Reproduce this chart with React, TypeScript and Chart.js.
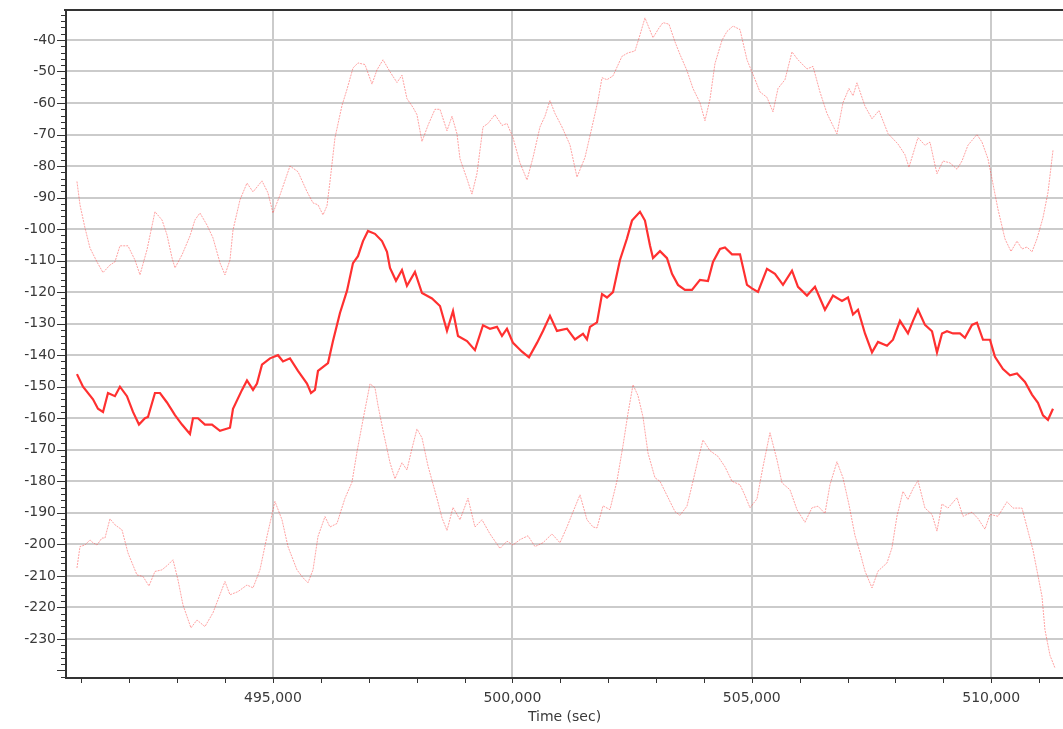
import React, { useEffect, useRef } from "react";
import { Chart, registerables } from "chart.js";

Chart.register(...registerables);

// ---- data (time in seconds, value) ----
const midTime = [490906,491032,491241,491345,491450,491554,491699,491804,491950,492076,492201,492326,492389,492535,492640,492786,492953,493099,493266,493329,493433,493579,493726,493893,494102,494165,494353,494457,494583,494666,494770,494937,495104,495209,495355,495522,495710,495794,495877,495940,496149,496253,496399,496545,496671,496775,496880,496984,497130,497277,497381,497444,497569,497694,497798,497965,498112,498321,498488,498634,498760,498864,499052,499218,499386,499532,499678,499783,499887,500013,500201,500347,500514,500639,500785,500931,501140,501307,501475,501558,501621,501767,501872,501976,502101,502247,502393,502498,502665,502769,502874,502937,503083,503229,503334,503459,503604,503751,503918,504085,504190,504336,504440,504587,504754,504900,505004,505129,505317,505484,505652,505840,505965,506153,506320,506528,506696,506884,507009,507114,507218,507364,507511,507636,507824,507949,508095,508262,508367,508471,508617,508764,508868,508973,509077,509203,509348,509452,509599,509703,509829,509975,510079,510247,510393,510539,510706,510852,510977,511082,511186,511291];
const midValue = [-146,-150,-154,-157,-158,-152,-153,-150,-153,-158,-162,-160,-159.6,-152,-152,-155,-159,-162,-165,-160,-160,-162,-162,-164,-163,-157,-151,-148,-151,-149,-143,-141,-140,-142,-141,-145,-149,-152,-151,-145,-142.5,-135.5,-126.6,-119.6,-110.8,-108.6,-103.8,-100.6,-101.5,-103.8,-107.2,-112.3,-116.4,-113,-118,-113.6,-120.3,-122,-124.4,-132.3,-126,-133.9,-135.5,-138.4,-130.5,-131.6,-131,-133.9,-131.6,-136.1,-138.9,-140.7,-136.1,-132.3,-127.5,-132.3,-131.6,-135,-133.2,-135,-131,-129.6,-120.6,-121.7,-120,-109.8,-103,-97.3,-94.5,-97.3,-105.2,-109.2,-107,-109.2,-114.2,-117.7,-119.3,-119.3,-116.1,-116.5,-110.4,-106.3,-105.8,-108,-108,-117.7,-118.8,-119.9,-112.6,-114.2,-117.7,-113.2,-118.3,-121.1,-118.3,-125.6,-121.1,-122.8,-121.7,-127.1,-125.6,-133.1,-139.1,-135.8,-137,-135.1,-129.1,-133.1,-129.1,-125.5,-130.4,-132.4,-139.1,-133.1,-132.4,-133.1,-133.1,-134.5,-130.4,-129.7,-135.1,-135.1,-140.5,-144.4,-146.4,-145.8,-148.5,-152.5,-155.1,-159.1,-160.5,-157];

const upperTime = [490906,490969,491073,491178,491324,491450,491595,491699,491804,491971,492117,492222,492368,492535,492682,492786,492891,492953,493099,493266,493370,493475,493621,493747,493893,493997,494102,494165,494311,494457,494583,494770,494895,495000,495146,495355,495522,495710,495836,495940,496045,496128,496190,496294,496441,496545,496671,496775,496921,497068,497172,497298,497444,497590,497694,497798,497924,498007,498112,498237,498383,498488,498634,498739,498843,498906,499052,499156,499260,499386,499490,499636,499783,499887,500013,500159,500305,500431,500576,500680,500785,500889,501036,501203,501349,501516,501663,501788,501872,501976,502101,502289,502414,502560,502665,502769,502937,503062,503146,503271,503396,503500,503646,503772,503918,504022,504127,504231,504378,504482,504608,504754,504900,505025,505171,505317,505443,505547,505693,505840,505965,506153,506279,506424,506570,506779,506905,507030,507114,507197,507364,507511,507657,507845,508053,508199,508283,508471,508617,508722,508826,508868,508994,509140,509286,509390,509515,509703,509808,509933,510038,510142,510288,510414,510539,510644,510748,510852,510956,511082,511186,511291];
const upperValue = [-84.9,-92.3,-99.6,-106,-110.4,-113.8,-111.4,-110.4,-105.3,-105.3,-109.8,-114.5,-106.6,-94.5,-97.1,-101.8,-109.1,-112.3,-108.2,-102.2,-97.1,-94.9,-98.7,-102.8,-110.7,-114.5,-109.8,-100.3,-90.7,-85.4,-88.2,-84.7,-88.5,-94.9,-89.2,-80,-81.8,-88.1,-91.7,-92.3,-95.5,-92.6,-85,-71.1,-60.8,-55.7,-48.9,-47.3,-47.8,-54,-49.5,-46.3,-50.1,-53.5,-51.2,-58.6,-61.4,-63.7,-72.2,-67.1,-62,-62,-68.8,-64.2,-69.8,-77.7,-84.1,-88.9,-82.4,-67.6,-66.5,-63.7,-67.1,-66.5,-71,-79,-84.4,-77.3,-67.6,-64.2,-59.2,-63.3,-67.6,-73.3,-83.5,-77.3,-67.6,-59.2,-52,-52.6,-51.4,-45.2,-44.1,-43.5,-38.4,-33,-39.3,-36.2,-34.5,-35,-40.6,-44.6,-49.7,-55.4,-59.9,-65.6,-58.8,-47.5,-40.1,-37.3,-35.6,-36.7,-46.3,-50.9,-56.5,-58.2,-62.8,-55.4,-52.6,-43.8,-46.3,-49.2,-48.4,-56.5,-63.3,-69.8,-59.9,-55.4,-57.7,-53.6,-61,-65,-62.4,-69.7,-73,-76.4,-80.4,-71,-73.4,-72.4,-79.7,-82.4,-78.4,-79,-81,-78.4,-73.4,-70,-72.4,-77.7,-85.7,-93.7,-103.1,-107.1,-103.8,-106.3,-105.7,-107.2,-103.1,-96.4,-88.4,-75];

const lowerTime = [490906,490969,491073,491178,491241,491324,491429,491491,491595,491699,491846,491971,492159,492285,492410,492535,492682,492807,492912,493016,493120,493287,493412,493579,493747,493997,494102,494269,494457,494583,494728,494874,495041,495188,495313,495501,495627,495731,495836,495940,496086,496190,496336,496503,496650,496754,496880,497026,497130,497193,497298,497444,497548,497694,497798,497903,498007,498112,498237,498425,498530,498634,498760,498906,499073,499218,499365,499532,499741,499887,500013,500159,500326,500472,500639,500827,500994,501140,501245,501412,501558,501684,501767,501893,502038,502184,502310,502414,502519,502623,502728,502832,502978,503083,503229,503396,503500,503646,503772,503876,503981,504127,504294,504440,504587,504754,504858,504962,505108,505234,505380,505526,505631,505798,505944,506111,506258,506383,506528,506633,506779,506905,507030,507155,507260,507364,507511,507636,507824,507928,508032,508158,508262,508367,508471,508617,508764,508868,508973,509098,509286,509411,509599,509724,509870,509975,510142,510330,510456,510644,510769,510873,510977,511061,511123,511228,511332];
const lowerValue = [-207.5,-200.7,-200.2,-198.6,-199.5,-200.2,-198,-198,-191.9,-193.8,-195.4,-202.7,-209.7,-210.2,-213.2,-208.6,-208.1,-206.5,-204.9,-211.3,-219.2,-226.5,-224,-226.1,-221.7,-211.8,-216,-215,-212.9,-213.8,-208.1,-197.5,-186.4,-192.2,-200.7,-208.1,-210.6,-212.2,-208.1,-197.5,-191.2,-194.5,-193.4,-185.4,-180.3,-170.7,-160.5,-149.1,-150.3,-155.9,-163.9,-174.1,-179.2,-174.1,-176.4,-169.6,-163.4,-166.2,-175.1,-185.4,-191.6,-195.6,-188.3,-192.2,-185.4,-194.5,-192.2,-196.7,-201.3,-199,-200.2,-198.5,-197.3,-200.7,-199.5,-196.7,-199.5,-194.5,-190.5,-184.3,-192.2,-194.5,-194.8,-187.8,-189,-179.9,-168.7,-158.5,-149.4,-152.8,-159.6,-171,-178.9,-180,-184.5,-189.6,-190.8,-187.9,-180,-173.2,-166.9,-170.3,-172.1,-175.4,-180,-181.1,-184.5,-188.4,-185.6,-175.4,-164.6,-173.2,-180.5,-182.7,-189,-193,-188.4,-187.9,-190.2,-181.1,-173.8,-178.9,-187.4,-197.2,-202.5,-208.5,-213.8,-208.5,-205.9,-201.1,-191.1,-183.2,-185.8,-182.4,-179.8,-188.5,-190.5,-195.8,-187.2,-188.5,-185.2,-191.1,-189.8,-191.8,-195.2,-190.5,-191.1,-186.5,-188.5,-188.5,-195.8,-201.8,-209.9,-216.5,-227.1,-235.2,-239.2];

const xMin = 490677;
const xMax = 511500;
const yMin = -242.4;
const yMax = -30.5;
const xMinorStep = 1000;
const xMajorStep = 5000;
const yMinorStep = 2;
const yMajorStep = 10;
const yLabelLowest = -230;
const xAxisTitle = "Time (sec)";

const toPoints = (t: number[], v: number[]) => t.map((x, i) => ({ x, y: v[i] }));

const FONT = "'DejaVu Sans', Verdana, sans-serif";

const stepTicks = (min: number, max: number, step: number) => {
  const out: { value: number }[] = [];
  for (let v = Math.ceil(min / step) * step; v <= max; v += step) out.push({ value: v });
  return out;
};

const framePlugin = {
  id: "frame",
  afterDraw(chart: any) {
    const { ctx, chartArea, scales } = chart;
    const { left, right, top, bottom } = chartArea;
    ctx.save();
    ctx.strokeStyle = "#333333";
    ctx.lineWidth = 2;
    ctx.beginPath();
    ctx.moveTo(left - 2, top);
    ctx.lineTo(right, top);
    ctx.stroke();
    ctx.lineWidth = 1;
    ctx.beginPath();
    for (const t of scales.y.ticks) {
      const py = Math.round(scales.y.getPixelForValue(t.value)) + 0.5;
      const len = t.value % yMajorStep === 0 ? 8 : 4;
      ctx.moveTo(left - 1 - len, py);
      ctx.lineTo(left - 1, py);
    }
    for (const t of scales.x.ticks) {
      const px = Math.round(scales.x.getPixelForValue(t.value)) + 0.5;
      ctx.moveTo(px, bottom + 1);
      ctx.lineTo(px, bottom + 5);
    }
    ctx.stroke();
    ctx.restore();
  },
};

export default function App() {
  const ref = useRef<HTMLCanvasElement>(null);
  useEffect(() => {
    if (!ref.current) return;
    const lightColor = "rgba(255,70,70,0.5)";
    const chart = new Chart(ref.current, {
      type: "line",
      data: {
        datasets: [
          {
            data: toPoints(midTime, midValue),
            borderColor: "#ff3030",
            borderWidth: 2.2,
            pointRadius: 0,
            tension: 0,
          },
          {
            data: toPoints(upperTime, upperValue),
            borderColor: lightColor,
            borderWidth: 1,
            borderDash: [2, 1],
            pointRadius: 0,
            tension: 0,
          },
          {
            data: toPoints(lowerTime, lowerValue),
            borderColor: lightColor,
            borderWidth: 1,
            borderDash: [2, 1],
            pointRadius: 0,
            tension: 0,
          },
        ],
      },
      options: {
        animation: false,
        responsive: false,
        devicePixelRatio: 1,
        layout: { padding: { top: 10, left: 0, right: 0, bottom: 0 } },
        plugins: { legend: { display: false }, tooltip: { enabled: false }, title: { display: false } },
        scales: {
          x: {
            type: "linear",
            min: xMin,
            max: xMax,
            afterBuildTicks: (s: any) => {
              s.ticks = stepTicks(xMin, xMax, xMinorStep);
            },
            afterFit: (s: any) => {
              s.height = 51;
              s.paddingLeft = 0;
              s.paddingRight = 0;
            },
            ticks: {
              autoSkip: false,
              maxRotation: 0,
              padding: 12,
              color: "#3a3a3a",
              font: { family: FONT, size: 14 },
              callback: (v: any) => (Number(v) % xMajorStep === 0 ? Number(v).toLocaleString("en-US") : ""),
            },
            grid: {
              drawTicks: false,
              lineWidth: 2,
              color: (c: any) => (c.tick && c.tick.value % xMajorStep === 0 ? "#cbcbcb" : "rgba(0,0,0,0)"),
            },
            border: { color: "#333333", width: 2 },
            title: {
              display: true,
              text: xAxisTitle,
              color: "#3a3a3a",
              font: { family: FONT, size: 14 },
              padding: { top: 0, bottom: 3 },
            },
          },
          y: {
            type: "linear",
            min: yMin,
            max: yMax,
            afterBuildTicks: (s: any) => {
              s.ticks = stepTicks(yMin, yMax, yMinorStep);
            },
            afterFit: (s: any) => {
              s.width = 66;
              s.paddingTop = 0;
              s.paddingBottom = 0;
            },
            ticks: {
              autoSkip: false,
              padding: 10,
              color: "#3a3a3a",
              font: { family: FONT, size: 14 },
              callback: (v: any) =>
                Number(v) % yMajorStep === 0 && Number(v) >= yLabelLowest ? String(v) : "",
            },
            grid: {
              drawTicks: false,
              lineWidth: 2,
              color: (c: any) =>
                c.tick && c.tick.value % yMajorStep === 0 && c.tick.value >= yLabelLowest
                  ? "#cbcbcb"
                  : "rgba(0,0,0,0)",
            },
            border: { color: "#333333", width: 2 },
          },
        },
      },
      plugins: [framePlugin],
    } as any);
    return () => chart.destroy();
  }, []);
  return (
    <div style={{ position: "fixed", left: 0, top: 0, width: 1063, height: 729, background: "#fff" }}>
      <canvas ref={ref} width={1063} height={729} style={{ display: "block" }} />
    </div>
  );
}
